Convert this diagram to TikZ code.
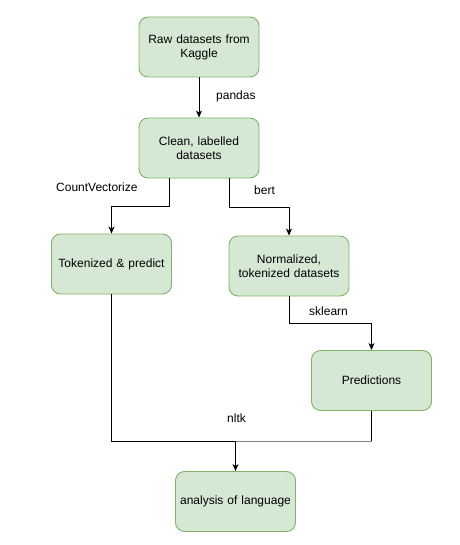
\documentclass[tikz,border=0pt]{standalone}
\usepackage{fontspec}
\setmainfont{Liberation Sans}
\usetikzlibrary{arrows.meta}
\definecolor{boxfill}{HTML}{D5E8D4}
\definecolor{boxdraw}{HTML}{82B366}
\tikzset{
  box/.style={draw=boxdraw, fill=boxfill, rounded corners=9pt, line width=0.9pt,
    minimum width=120pt, minimum height=60pt, inner sep=2pt, align=center,
    font=\fontsize{12pt}{14pt}\selectfont, text width=114pt},
  conn/.style={line width=0.9pt, -{Stealth[length=7pt,width=6pt,inset=2pt]}},
  plain/.style={line width=0.9pt},
  lbl/.style={font=\fontsize{12pt}{14pt}\selectfont, inner sep=0pt}
}
\begin{document}
\begin{tikzpicture}[x=1pt,y=-1pt]
\useasboundingbox (0,0) rectangle (459,545);
\node[box] (raw) at (199,47) {Raw datasets from\\Kaggle};
\node[box] (clean) at (199,148) {Clean, labelled\\datasets};
\node[box] (tok) at (111.5,264) {Tokenized \& predict};
\node[box] (norm) at (289,266) {Normalized,\\tokenized datasets};
\node[box] (pred) at (371.5,380.5) {Predictions};
\node[box] (ana) at (235.5,501.5) {analysis of language};
\coordinate (j) at (235.5,441);
\coordinate (k) at (371.5,441);
\draw[conn] (raw) -- (clean);
\draw[conn] (clean.south -| 169,0) |- (111.5,206) -- (tok.north);
\draw[conn] (clean.south -| 229,0) |- (289,207) -- (norm.north);
\draw[conn] (norm.south) |- (371.5,323) -- (pred.north);
\draw[plain] (tok.south) |- (j);
\draw[plain] (pred.south) -- (k);
\draw[plain, draw=gray] (k) -- (j);
\draw[conn] (j) -- (ana.north);
\node[lbl, anchor=west] (l1) at (216,96) {pandas};
\node[lbl, anchor=west] (l2) at (56,187) {CountVectorize};
\node[lbl, anchor=west] (l3) at (254,190) {bert};
\node[lbl, anchor=west] (l4) at (309,311) {sklearn};
\node[lbl, anchor=west] (l5) at (227,418) {nltk};
\end{tikzpicture}
\end{document}
